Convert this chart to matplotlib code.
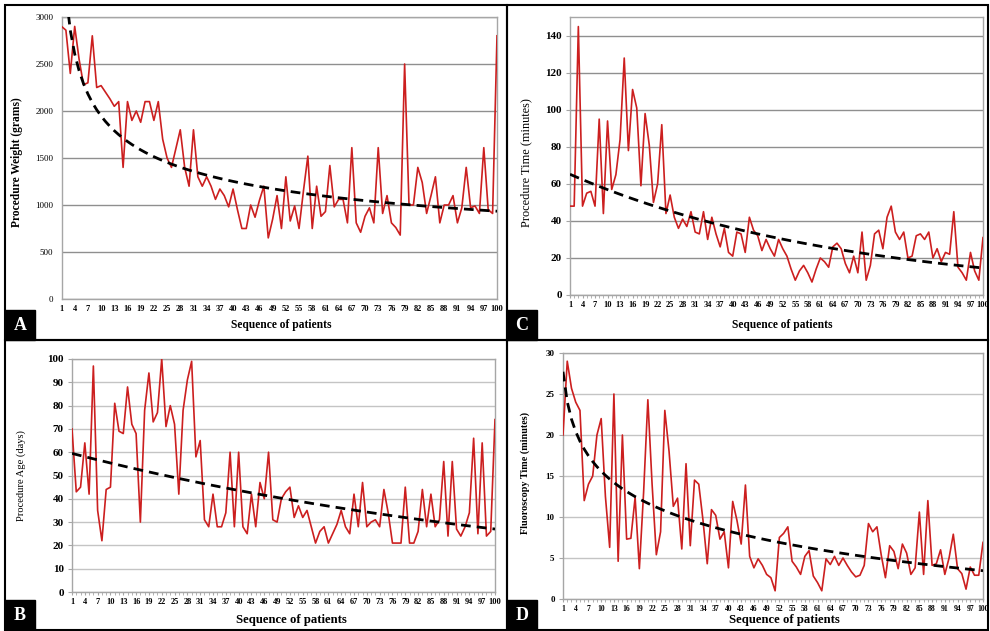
import matplotlib
matplotlib.use("Agg")
import matplotlib.pyplot as plt
import numpy as np
from matplotlib.patches import Rectangle

# -------------------------- 1. data --------------------------
patients = np.arange(1, 101)
x_tick_labels = np.arange(1, 101, 3)

weight_g = [2900, 2860, 2400, 2900, 2550, 2280, 2300, 2800, 2250, 2270,
            2200, 2130, 2050, 2100, 1400, 2100, 1900, 2000, 1880, 2100,
            2100, 1900, 2100, 1700, 1500, 1400, 1600, 1800, 1400, 1200,
            1800, 1300, 1200, 1300, 1200, 1060, 1170, 1100, 980, 1170,
            950, 750, 750, 1000, 870, 1050, 1200, 650, 850, 1100,
            750, 1300, 830, 990, 750, 1150, 1520, 750, 1200, 880,
            930, 1420, 980, 1060, 1060, 810, 1610, 810, 710, 880,
            970, 810, 1610, 910, 1100, 810, 760, 680, 2500, 1000,
            1000, 1400, 1240, 910, 1100, 1300, 810, 1000, 1000, 1100,
            810, 970, 1400, 970, 990, 910, 1610, 950, 910, 2800]

time_min = [48, 48, 145, 48, 55, 56, 48, 95, 44, 94,
            57, 65, 84, 128, 78, 111, 101, 59, 98, 81,
            50, 60, 92, 44, 54, 42, 36, 41, 37, 45,
            34, 33, 45, 30, 42, 33, 26, 36, 23, 21,
            34, 33, 23, 42, 35, 32, 24, 30, 25, 21,
            30, 25, 21, 14, 8, 13, 16, 12, 7, 14,
            20, 18, 15, 26, 28, 25, 17, 12, 21, 12,
            34, 8, 16, 33, 35, 25, 42, 48, 34, 30,
            34, 20, 21, 32, 33, 30, 34, 20, 25, 18,
            23, 22, 45, 15, 12, 8, 23, 13, 8, 31]

age_days = [70, 43, 45, 64, 42, 97, 35, 22, 44, 45,
            81, 69, 68, 88, 72, 68, 30, 78, 94, 73,
            77, 100, 71, 80, 72, 42, 78, 91, 99, 58,
            65, 31, 28, 42, 28, 28, 34, 60, 28, 60,
            28, 25, 42, 28, 47, 40, 60, 31, 30, 40,
            43, 45, 32, 37, 32, 35, 28, 21, 26, 28,
            21, 25, 29, 35, 28, 25, 42, 28, 47, 28,
            30, 31, 28, 44, 34, 21, 21, 21, 45, 21,
            21, 26, 44, 28, 42, 28, 31, 56, 24, 56,
            27, 24, 28, 34, 66, 25, 64, 24, 26, 74]

fluoro_min = [20, 29, 25.7, 24, 23, 12, 14, 15, 20, 22,
              12.5, 6.3, 25, 4.6, 20, 7.3, 7.4, 12.4, 3.7, 13,
              24.3, 14, 5.4, 8.2, 23, 18, 11.3, 12.3, 6.1, 16.5,
              6.5, 14.5, 14, 9.6, 4.3, 10.9, 10.2, 7.3, 8.2, 3.8,
              11.9, 9.6, 6.7, 13.9, 5.2, 3.8, 4.9, 4.1, 3, 2.6,
              1, 7.5, 8, 8.8, 4.6, 3.9, 3, 5.2, 5.9, 2.8,
              2, 1, 4.9, 4.2, 5.2, 4.1, 5, 4.1, 3.3, 2.7,
              2.9, 4.1, 9.2, 8.2, 8.8, 5.4, 2.6, 6.5, 5.8, 3.7,
              6.7, 5.6, 3, 3.8, 10.6, 3, 12, 4.1, 4.3, 6,
              3, 5, 7.9, 3.7, 3.1, 1.2, 3.9, 2.9, 2.9, 6.9]


# -------------------------- 2. trendlines (Excel style fits) --------------------------
def power_fit(x, y):
    m, b = np.polyfit(np.log(x), np.log(y), 1)
    return np.exp(b) * x ** m


def expo_fit(x, y):
    m, b = np.polyfit(x, np.log(y), 1)
    return np.exp(b) * np.exp(m * x)


def log_fit(x, y):
    m, b = np.polyfit(np.log(x), y, 1)
    return b + m * np.log(x)


# -------------------------- 3. figure --------------------------
W, H = 990, 631
RED = "#cc1f1f"
plt.rcParams['font.family'] = ['Liberation Serif', 'DejaVu Serif']

fig = plt.figure(figsize=(W / 100, H / 100), dpi=100)


def box(l, t, r, b):
    # pixel box (top-left origin) -> figure fraction
    return [l / W, 1 - b / H, (r - l) / W, (b - t) / H]


def draw_panel(rect, values, fit, ymax, ystep, ylabel, grid_col,
               ytick_size, ytick_bold, xtick_size, minor_ticks):
    ax = fig.add_axes(box(*rect))
    y = np.array(values, dtype=float)
    ax.plot(patients, y, color=RED, lw=1.2, zorder=3)
    ax.plot(patients, fit(patients, y), color="black", lw=2.0,
            ls=(0, (3.5, 2.2)), zorder=4)
    ax.set_xlim(1, 100)
    ax.set_ylim(0, ymax)
    ax.set_yticks(np.arange(0, ymax + 1e-9, ystep))
    ax.set_xticks(x_tick_labels)
    ax.set_xticklabels([str(v) for v in x_tick_labels], fontsize=xtick_size,
                       fontweight="bold")
    ax.set_yticklabels([str(int(v)) for v in ax.get_yticks()],
                       fontsize=ytick_size,
                       fontweight="bold" if ytick_bold else "normal")
    ax.yaxis.grid(True, color=grid_col, lw=1.0)
    ax.set_axisbelow(True)
    for s in ax.spines.values():
        s.set_color("#a6a6a6")
        s.set_linewidth(1.0)
    if minor_ticks:
        ax.set_xticks(patients, minor=True)
        ax.tick_params(axis="x", which="both", length=2, color="#a6a6a6",
                       pad=2)
        ax.tick_params(axis="y", length=3, color="#a6a6a6", pad=3)
    else:
        ax.tick_params(axis="x", length=0, pad=4)
        ax.tick_params(axis="y", length=0, pad=6)
    return ax


# A: procedure weight (power trend)
draw_panel((61.5, 17, 497, 299), weight_g, power_fit, 3000, 500,
           None, "#8f8f8f", 6.5, False, 6, False)
# C: procedure time (exponential trend)
draw_panel((570, 17.3, 983, 295), time_min, expo_fit, 150, 20,
           None, "#8f8f8f", 8, True, 6, True)
# B: procedure age (exponential trend)
draw_panel((72, 359, 495, 592), age_days, expo_fit, 100, 10,
           None, "#c4c4c4", 8, True, 6, True)
# D: fluoroscopy time (logarithmic trend)
draw_panel((563, 353, 983, 599), fluoro_min, log_fit, 30, 5,
           None, "#c4c4c4", 6.5, True, 5.5, True)

# y labels
fig.text(17 / W, 1 - 162 / H, "Procedure Weight (grams)", rotation=90,
         ha="center", va="center", fontsize=8.3, fontweight="bold")
fig.text(526 / W, 1 - 163 / H, "Procedure Time (minutes)", rotation=90,
         ha="center", va="center", fontsize=8.8)
fig.text(21 / W, 1 - 476 / H, "Procedure Age (days)", rotation=90,
         ha="center", va="center", fontsize=7.6)
fig.text(525 / W, 1 - 473 / H, "Fluoroscopy Time (minutes)", rotation=90,
         ha="center", va="center", fontsize=7.3, fontweight="bold")

# x labels
for cx, cy, fs in [(281, 325, 8.3), (782, 325, 8.3), (291, 620, 9.2), (784, 620, 9.2)]:
    fig.text(cx / W, 1 - cy / H, "Sequence of patients", ha="center",
             va="center", fontsize=fs, fontweight="bold")

# panel frames
for l, t, r, b in [(5, 5, 507, 340), (507, 5, 988, 340),
                   (5, 340, 507, 630), (507, 340, 988, 630)]:
    fig.patches.append(Rectangle((l / W, 1 - b / H), (r - l) / W, (b - t) / H,
                                 transform=fig.transFigure, fill=False,
                                 edgecolor="black", lw=1.5, zorder=5))

# letter tags
for letter, l, t in [("A", 5, 310), ("C", 507, 310), ("B", 5, 600), ("D", 507, 600)]:
    fig.patches.append(Rectangle((l / W, 1 - (t + 30) / H), 30 / W, 30 / H,
                                 transform=fig.transFigure, facecolor="black",
                                 edgecolor="black", zorder=6))
    fig.text((l + 15) / W, 1 - (t + 15) / H, letter, color="white",
             ha="center", va="center", fontsize=13, fontweight="bold",
             zorder=7)

plt.savefig("out.png", dpi=100)
